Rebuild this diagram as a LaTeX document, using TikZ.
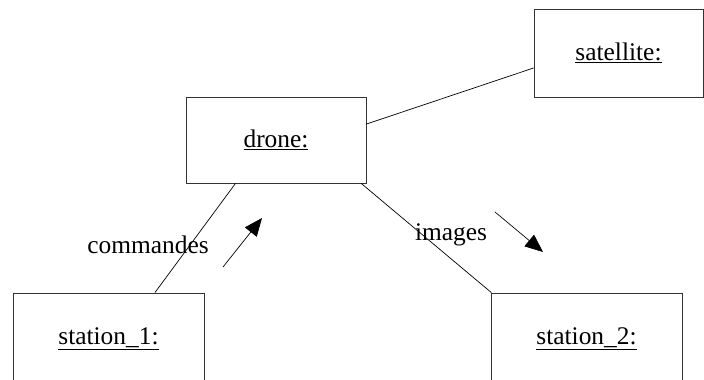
\documentclass[tikz,border=0pt]{standalone}
\usepackage{fontspec}
\setmainfont{Liberation Serif}
\usetikzlibrary{arrows.meta}
\begin{document}
\begin{tikzpicture}[x=1bp,y=-1bp,
  objbox/.style={draw=black!80,line width=0.8bp,rectangle,inner sep=0pt,
    minimum width=#1,minimum height=86bp,font=\fontsize{25.5}{30}\selectfont},
  objbox/.default=180bp,
  link/.style={line width=0.7bp},
  lbl/.style={inner sep=0pt,font=\fontsize{25.5}{30}\selectfont},
  flow/.style={line width=0.7bp,-{Triangle[length=18bp,width=15bp]}}]
  \useasboundingbox (0,0) rectangle (704,379);
  % objects
  \node[objbox] (drone) at (276,140) {\underline{drone:}};
  \node[objbox=169bp,minimum height=88bp] (satellite) at (618.5,53) {\underline{satellite:}};
  \node[objbox=191bp,minimum height=92bp] (station1) at (108.5,339) {\underline{station\_1:}};
  \node[objbox=191bp,minimum height=92bp] (station2) at (586.5,339) {\underline{station\_2:}};
  % links
  \draw[link] (drone.10.7) -- (satellite.190);
  \draw[link] (drone.227) -- (station1.45.7);
  \draw[link] (drone.333.4) -- (station2.154.2);
  % message labels
  \node[lbl] (cmd) at (148,245) {commandes};
  \node[lbl] (img) at (451,235) {images};
  % message direction arrows
  \coordinate (cmdA) at (223,267);
  \coordinate (cmdB) at (262,218);
  \coordinate (imgA) at (495,212);
  \coordinate (imgB) at (543,252);
  \draw[flow] (cmdA) -- (cmdB);
  \draw[flow] (imgA) -- (imgB);
\end{tikzpicture}
\end{document}
